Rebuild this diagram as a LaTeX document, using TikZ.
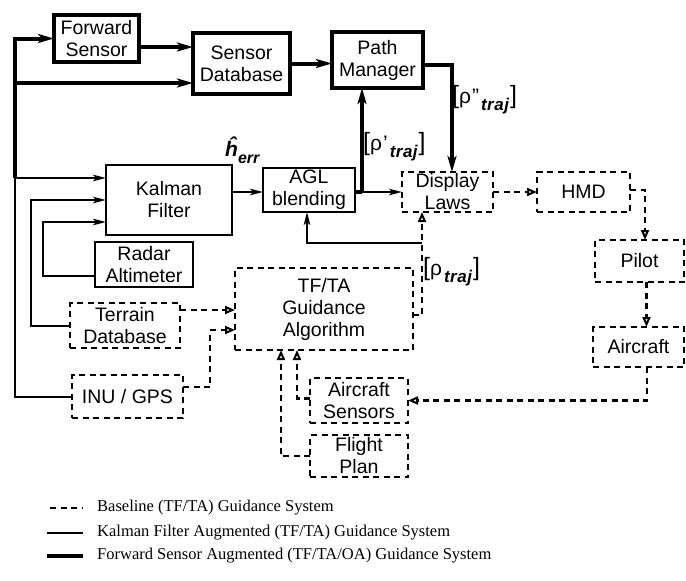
\documentclass[tikz,border=0pt]{standalone}
\usepackage{fontspec}
\setmainfont{Liberation Serif}
\newfontfamily\boxfam{Liberation Sans}
\usetikzlibrary{arrows.meta,calc}
\tikzset{
  box/.style={draw, inner sep=0pt, outer sep=0pt, align=center, font=\boxfam\fontsize{19.5}{22}\selectfont},
  thickbox/.style={box, line width=4.2pt},
  thinbox/.style={box, line width=2.5pt},
  dashbox/.style={box, line width=2.3pt, dash pattern=on 6pt off 4.5pt},
  sz/.style 2 args={minimum width=#1pt, minimum height=#2pt},
  fwd/.style={line width=4pt, -{Stealth[length=16pt,width=9pt,inset=4pt]}},
  kal/.style={line width=2pt, -{Stealth[length=13pt,width=6.5pt,inset=3pt]}},
  base/.style={line width=2.3pt, dash pattern=on 6pt off 4.5pt, -{Triangle[open,length=10pt,width=8pt,line width=2pt]}},
  lbl/.style={inner sep=0pt, anchor=west, font=\boxfam\fontsize{21}{21}\selectfont},
  leg/.style={inner sep=0pt, anchor=west, font=\fontsize{16.5}{16.5}\selectfont},
}
\newcommand{\trajsub}{\raisebox{-7pt}{\fontsize{17}{17}\selectfont\itshape\bfseries t\kern0.5pt r\kern0.5pt a\kern0.5pt j}}
\newcommand{\bigbr}[1]{{\fontsize{25}{25}\selectfont#1}}
\begin{document}
\begin{tikzpicture}[x=1pt,y=-1pt]
\useasboundingbox (0,0) rectangle (686,581);
% nodes
\node[thickbox,sz={85}{47}] (fs) at (96.5,38.5) {Forward\\Sensor};
\node[thickbox,sz={97}{61}] (sdb) at (241.5,63.5) {Sensor\\Database};
\node[thickbox,sz={91}{56}] (pm) at (377.5,60) {Path\\Manager};
\node[thinbox,sz={126}{70}] (kf) at (169,200) {Kalman\\Filter};
\node[thinbox,sz={98}{45}] (ra) at (144,264.5) {Radar\\Altimeter};
\node[thinbox,sz={92}{44}] (agl) at (309,190) {AGL\\blending};
\node[dashbox,sz={91}{40}] (dl) at (447.5,192) {Display\\Laws};
\node[dashbox,sz={93}{40}] (hmd) at (583.5,192) {HMD};
\node[dashbox,sz={89}{42}] (pilot) at (639.5,261) {Pilot};
\node[dashbox,sz={91}{40}] (ac) at (638.5,347) {Aircraft};
\node[dashbox,sz={178}{82}] (tfta) at (324,309) {TF/TA\\Guidance\\Algorithm};
\node[dashbox,sz={110}{45}] (tdb) at (125,325.5) {Terrain\\Database};
\node[dashbox,sz={111}{43}] (inu) at (127.5,396.5) {INU / GPS};
\node[dashbox,sz={98}{45}] (as) at (359,400.5) {Aircraft\\Sensors};
\node[dashbox,sz={98}{42}] (fp) at (359,456) {Flight\\Plan};
% coordinates
\coordinate (bus) at (15,178);
\coordinate (bustop) at (15,38.5);
\coordinate (j1) at (362,192);
\coordinate (j2) at (422,243);
% forward sensor (thick) paths
\draw[line width=4pt] (bus) -- (bustop);
\draw[fwd] ([xshift=-2pt]bustop) -- (fs.west);
\draw[fwd] ([yshift=-19.5pt]sdb.west -| bus) -- ([yshift=-19.5pt]sdb.west);
\draw[fwd] ([yshift=-8.5pt]fs.east) -- ([yshift=-8.5pt]fs.east -| sdb.west);
\draw[fwd] (sdb.east) -- (sdb.east -| pm.west);
\draw[fwd] ([yshift=-5pt]pm.east) -| ([xshift=4.5pt]dl.north);
\draw[line width=4pt] ([yshift=-2pt]agl.east) -- (j1);
\draw[fwd] (j1) -- (j1 |- pm.south);
% kalman (thin) paths
\draw[kal] (inu.west) -- ++(-57,0) |- ([yshift=22pt]kf.west);
\draw[kal] (tdb.west) -- ++(-39,0) |- (kf.west);
\draw[kal] ([yshift=-11.5pt]ra.west) -- ++(-52,0) |- ([yshift=-22pt]kf.west);
\draw[kal] ([yshift=8pt]kf.east) -- ([yshift=8pt]kf.east -| agl.west);
\draw[kal] (j1) -- (j1 -| dl.west);
\draw[kal] (j2) -| ([xshift=-2pt]agl.south);
% baseline (dashed) paths
\draw[base] (dl.east) -- (hmd.west);
\draw[base] ([yshift=2pt]hmd.east) -| ([xshift=5.5pt]pilot.north);
\draw[base] ([xshift=7pt]pilot.south) -- ([xshift=7pt]pilot.south |- ac.north);
\draw[base] ([xshift=8.5pt]ac.south) |- (as.east);
\draw[base] ([yshift=2pt]as.west) -| ([xshift=-27pt]tfta.south);
\draw[base] (fp.west) -| ([xshift=-43pt]tfta.south);
\draw[base] ([yshift=15.5pt]tdb.east) -- ([yshift=15.5pt]tdb.east -| tfta.west);
\draw[base] ([yshift=9.5pt]inu.east) -- ++(27,0) |- ([yshift=-21pt]tfta.west);
\draw[base] ([yshift=-6pt]tfta.east) -| ([xshift=-25.5pt]dl.south);
% labels
\node[lbl] (herr) at (225,150) {\itshape\bfseries ĥ\raisebox{-7pt}{\fontsize{16}{16}\selectfont err}};
\node[lbl] (rho2) at (452,100) {\bigbr{[}ρ\kern1pt”\kern2pt\trajsub\kern1pt\bigbr{]}};
\node[lbl] (rho1) at (363,147) {\bigbr{[}ρ\kern1pt’\kern2pt\trajsub\kern1pt\bigbr{]}};
\node[lbl] (rho0) at (423,272) {\bigbr{[}ρ\kern2pt\trajsub\kern1pt\bigbr{]}};
% legend
\node[leg] (l1) at (97,508) {Baseline (TF/TA) Guidance System};
\node[leg] (l2) at (97,533) {Kalman Filter Augmented (TF/TA) Guidance System};
\node[leg] (l3) at (97,556) {Forward Sensor Augmented (TF/TA/OA) Guidance System};
\draw[line width=2pt, dash pattern=on 6pt off 4.5pt] ([xshift=-47pt]l1.west) -- ([xshift=-14pt]l1.west);
\draw[line width=2pt] ([xshift=-50pt]l2.west) -- ([xshift=-14pt]l2.west);
\draw[line width=4pt] ([xshift=-50pt]l3.west) -- ([xshift=-14pt]l3.west);
\end{tikzpicture}
\end{document}
